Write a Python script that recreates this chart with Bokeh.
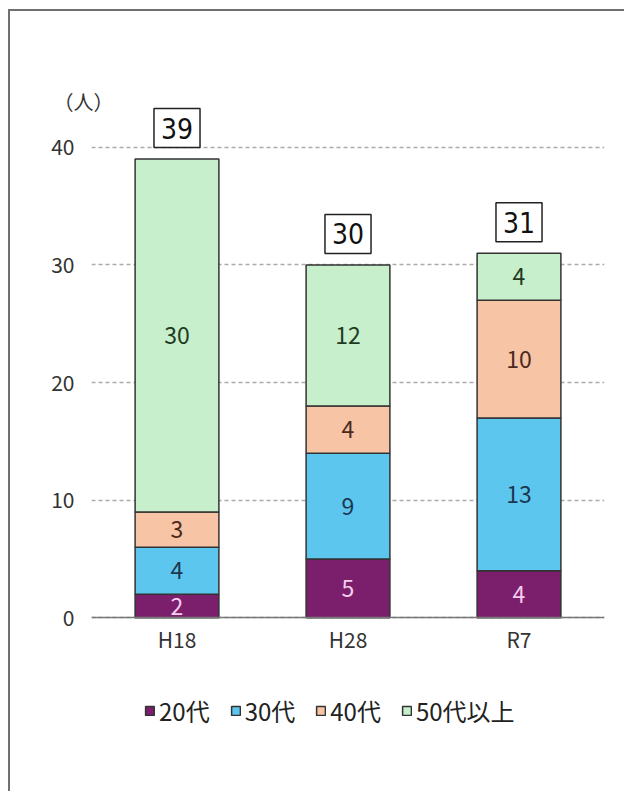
from bokeh.plotting import figure
from bokeh.models import ColumnDataSource, LabelSet, FactorRange, Legend
from bokeh.core.properties import value
from bokeh.embed import file_html
from bokeh.resources import INLINE

categories = ["H18", "H28", "R7"]
series_names = ["20代", "30代", "40代", "50代以上"]
v20 = [2, 5, 4]
v30 = [4, 9, 13]
v40 = [3, 4, 10]
v50 = [30, 12, 4]
y_ticks = [0, 10, 20, 30, 40]

keys = ["a20", "a30", "a40", "a50"]
colors = ["#7B1E6B", "#5CC6EF", "#F7C4A5", "#C7EFCB"]
text_colors = ["#F6CDEE", "#1C3850", "#4A2A1E", "#1F3A22"]

data = {"cat": categories, "a20": v20, "a30": v30, "a40": v40, "a50": v50}
totals = [a + b + c + d for a, b, c, d in zip(v20, v30, v40, v50)]
data["total"] = totals
data["total_txt"] = [str(t) for t in totals]
src = ColumnDataSource(data)

FONT = "'Noto Sans CJK JP'"

p = figure(x_range=FactorRange(*categories, range_padding=0), y_range=(-10, 45),
           width=616, height=782, output_backend="svg", toolbar_location=None,
           min_border_left=81, min_border_right=22, min_border_top=77, min_border_bottom=58,
           margin=(9, 0, 0, 8), title="（人）",
           styles={"border-left": "2px solid #707070", "border-top": "2px solid #707070"})

p.title.align = "left"
p.title.offset = -38
p.title.standoff = -54
p.title.text_font = FONT
p.title.text_font_size = "20px"
p.title.text_font_style = "normal"
p.title.text_color = "#333333"

rs = p.vbar_stack(keys, x="cat", width=0.49, source=src, fill_color=colors,
                  line_color="#333333", line_width=1.5)

# segment labels
cum = [0, 0, 0]
vals_list = [v20, v30, v40, v50]
for vals, tc in zip(vals_list, text_colors):
    mids = [c + v / 2 for c, v in zip(cum, vals)]
    cum = [c + v for c, v in zip(cum, vals)]
    s = ColumnDataSource({"cat": categories, "y": mids, "t": [str(v) for v in vals]})
    p.add_layout(LabelSet(x="cat", y="y", text="t", source=s, text_align="center",
                          text_baseline="middle", text_font=value(FONT), text_font_size="23px",
                          text_color=tc))

# total boxed labels
p.text(x="cat", y="total", text="total_txt", source=src, text_align="center",
       text_baseline="middle", y_offset=-31,
       text_font=value("'DejaVu Sans Condensed', 'Roboto'"),
       text_font_size="28px", text_color="#111111",
       border_line_color="#222222", border_line_width=1.5,
       background_fill_color="white",
       padding=dict(left=7, right=7, top=9, bottom=9))

p.xgrid.grid_line_color = None
p.ygrid.grid_line_color = "#AAAAAA"
p.ygrid.grid_line_dash = "4 3"
p.ygrid.grid_line_width = 1.5
p.ygrid.ticker = y_ticks
p.yaxis.ticker = y_ticks
p.yaxis.axis_line_color = None
p.yaxis.major_tick_line_color = None
p.yaxis.minor_tick_line_color = None
p.yaxis.major_label_text_font = FONT
p.yaxis.major_label_text_font_size = "21px"
p.yaxis.major_label_text_color = "#333333"
p.yaxis.major_label_standoff = 11
p.xaxis.fixed_location = 0
p.xaxis.axis_line_color = "#777777"
p.xaxis.axis_line_width = 1.5
p.xaxis.major_tick_line_color = None
p.xaxis.major_label_text_font = FONT
p.xaxis.major_label_text_font_size = "21px"
p.xaxis.major_label_text_color = "#333333"
p.xaxis.major_label_standoff = 0
p.outline_line_color = None

leg = Legend(items=[(n, [r]) for n, r in zip(series_names, rs)], orientation="horizontal",
             location=(53, 7))
leg.label_text_font = FONT
leg.label_text_font_size = "24px"
leg.label_text_color = "#222222"
leg.glyph_width = 11
leg.glyph_height = 11
leg.label_standoff = 4
leg.spacing = 20
leg.margin = 0
leg.border_line_color = None
leg.background_fill_alpha = 0
p.add_layout(leg, "center")

open("out.html", "w").write(file_html(p, INLINE))
